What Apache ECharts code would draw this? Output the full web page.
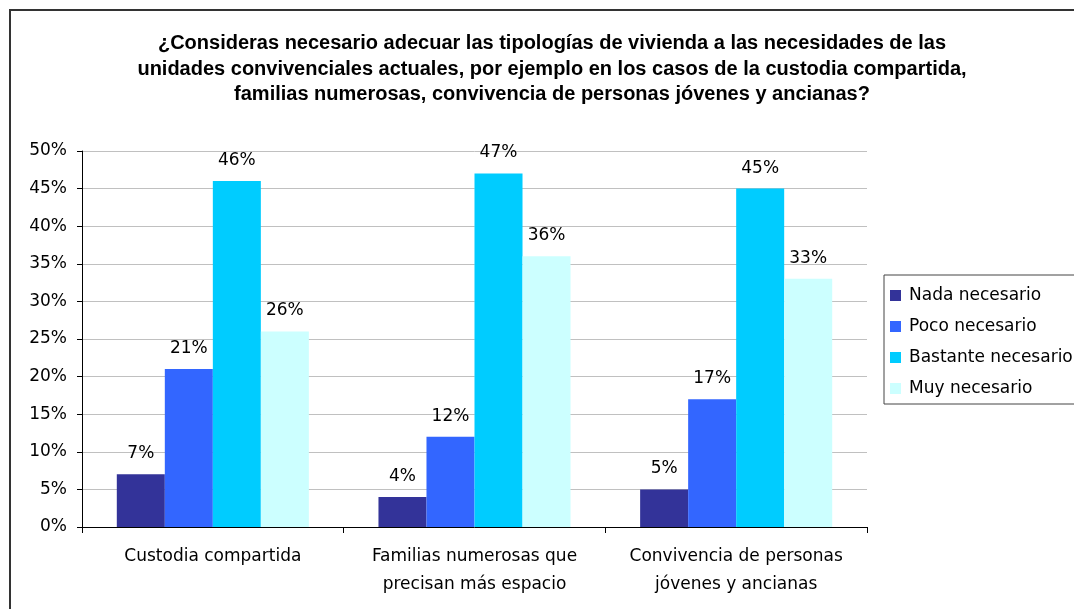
<!DOCTYPE html>
<html lang="es">
<head>
<meta charset="UTF-8">
<title>Tipologías de vivienda</title>
<style>
  html, body { margin: 0; padding: 0; background: #fff; }
  #main { width: 1074px; height: 609px; }
</style>
</head>
<body>
<div id="main"></div>
<script src="https://cdn.jsdelivr.net/npm/echarts@6/dist/echarts.min.js"></script>
<script>
var categories = ['Custodia compartida', 'Familias numerosas que\nprecisan más espacio', 'Convivencia de personas\njóvenes y ancianas'];
var seriesNames = ['Nada necesario', 'Poco necesario', 'Bastante necesario', 'Muy necesario'];
var nada = [7, 4, 5];
var poco = [21, 12, 17];
var bastante = [46, 47, 45];
var muy = [26, 36, 33];
var colors = ['#333399', '#3366ff', '#00ccff', '#ccffff'];

var font = 'DejaVu Sans';
var chart = echarts.init(document.getElementById('main'));

function bar(name, data, color) {
  return {
    name: name,
    type: 'bar',
    data: data,
    barGap: '0%',
    barCategoryGap: '26.6%',
    itemStyle: { color: color },
    label: {
      show: true,
      position: 'top',
      distance: 12,
      formatter: '{c}%',
      color: '#000',
      fontFamily: font,
      fontSize: 17
    },
    emphasis: { disabled: true }
  };
}

chart.setOption({
  animation: false,
  backgroundColor: '#fff',
  color: colors,
  title: {
    text: '¿Consideras necesario adecuar las tipologías de vivienda a las necesidades de las\nunidades convivenciales actuales, por ejemplo en los casos de la custodia compartida,\nfamilias numerosas, convivencia de personas jóvenes y ancianas?',
    left: 547,
    textAlign: 'center',
    top: 26,
    textStyle: {
      fontFamily: 'Liberation Sans',
      fontWeight: 'bold',
      fontSize: 20,
      lineHeight: 25.5,
      color: '#000'
    }
  },
  legend: {
    orient: 'vertical',
    left: 884,
    top: 275,
    itemWidth: 11,
    itemHeight: 11,
    itemGap: 14,
    padding: [12, 40, 7, 6],
    borderColor: '#444',
    borderWidth: 1,
    icon: 'rect',
    data: seriesNames,
    textStyle: { fontFamily: font, fontSize: 17, color: '#000', padding: [0, 0, 0, 3] }
  },
  graphic: [{
    type: 'rect',
    shape: { x: 10, y: 10, width: 1100, height: 700 },
    style: { fill: null, stroke: '#333', lineWidth: 2 },
    silent: true,
    z: -1
  }],
  grid: { left: 82, right: 207, top: 151, bottom: 82 },
  xAxis: {
    type: 'category',
    data: categories,
    axisLine: { lineStyle: { color: '#000' } },
    axisTick: { show: true, length: 6, lineStyle: { color: '#000' } },
    axisLabel: {
      interval: 0,
      margin: 16,
      verticalAlign: 'top',
      color: '#000',
      fontFamily: font,
      fontSize: 17,
      lineHeight: 28
    }
  },
  yAxis: {
    type: 'value',
    min: 0,
    max: 50,
    interval: 5,
    axisLine: { show: true, lineStyle: { color: '#000' } },
    axisTick: { show: true, length: 5, lineStyle: { color: '#000' } },
    axisLabel: {
      formatter: '{value}%',
      margin: 15,
      color: '#000',
      fontFamily: font,
      fontSize: 17
    },
    splitLine: { lineStyle: { color: '#c0c0c0' } }
  },
  series: [
    bar(seriesNames[0], nada, colors[0]),
    bar(seriesNames[1], poco, colors[1]),
    bar(seriesNames[2], bastante, colors[2]),
    bar(seriesNames[3], muy, colors[3])
  ]
});
</script>
</body>
</html>
